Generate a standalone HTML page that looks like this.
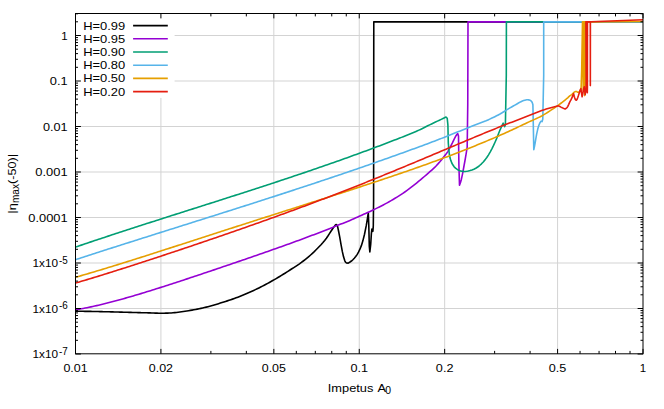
<!DOCTYPE html><html><head><meta charset="utf-8"><style>html,body{margin:0;padding:0;background:#fff}svg{display:block}text{font-family:"Liberation Sans",sans-serif;font-size:11.5px;fill:#000}</style></head><body>
<svg width="664" height="409" viewBox="0 0 664 409">
<rect width="664" height="409" fill="#fff"/>
<line x1="160.92" y1="13.5" x2="160.92" y2="353.8" stroke="#d3d3d3" stroke-width="1"/>
<line x1="273.83" y1="13.5" x2="273.83" y2="353.8" stroke="#d3d3d3" stroke-width="1"/>
<line x1="359.25" y1="13.5" x2="359.25" y2="353.8" stroke="#d3d3d3" stroke-width="1"/>
<line x1="444.67" y1="13.5" x2="444.67" y2="353.8" stroke="#d3d3d3" stroke-width="1"/>
<line x1="557.58" y1="13.5" x2="557.58" y2="353.8" stroke="#d3d3d3" stroke-width="1"/>
<line x1="75.5" y1="35.50" x2="643.0" y2="35.50" stroke="#d3d3d3" stroke-width="1"/>
<line x1="75.5" y1="81.00" x2="643.0" y2="81.00" stroke="#d3d3d3" stroke-width="1"/>
<line x1="75.5" y1="126.50" x2="643.0" y2="126.50" stroke="#d3d3d3" stroke-width="1"/>
<line x1="75.5" y1="172.00" x2="643.0" y2="172.00" stroke="#d3d3d3" stroke-width="1"/>
<line x1="75.5" y1="217.50" x2="643.0" y2="217.50" stroke="#d3d3d3" stroke-width="1"/>
<line x1="75.5" y1="263.00" x2="643.0" y2="263.00" stroke="#d3d3d3" stroke-width="1"/>
<line x1="75.5" y1="308.50" x2="643.0" y2="308.50" stroke="#d3d3d3" stroke-width="1"/>
<rect x="75.5" y="13.5" width="99.1" height="84.4" fill="#fff"/>
<defs><clipPath id="c"><rect x="75.5" y="13.5" width="567.5" height="340.3"/></clipPath></defs>
<g clip-path="url(#c)">
<polyline points="75.50,311.20 77.38,311.23 79.27,311.25 81.15,311.28 83.04,311.31 84.92,311.33 86.81,311.36 88.69,311.39 90.58,311.42 92.46,311.46 94.35,311.49 96.23,311.52 98.12,311.56 100.00,311.60 101.82,311.64 103.64,311.68 105.45,311.72 107.27,311.77 109.09,311.81 110.91,311.86 112.73,311.91 114.55,311.96 116.36,312.00 118.18,312.05 120.00,312.10 121.82,312.15 123.64,312.20 125.45,312.25 127.27,312.30 129.09,312.35 130.91,312.40 132.73,312.45 134.55,312.50 136.36,312.55 138.18,312.60 140.00,312.65 141.67,312.69 143.33,312.73 145.00,312.77 146.67,312.81 148.33,312.86 150.00,312.90 151.75,312.95 153.50,313.02 155.25,313.08 157.00,313.14 158.75,313.18 160.50,313.20 162.29,313.20 164.07,313.18 165.86,313.15 167.64,313.10 169.43,313.03 171.21,312.93 173.00,312.80 174.72,312.64 176.44,312.46 178.16,312.25 179.88,312.03 181.60,311.80 183.33,311.55 185.07,311.29 186.80,311.00 188.53,310.71 190.27,310.41 192.00,310.10 193.78,309.78 195.57,309.45 197.35,309.12 199.13,308.77 200.92,308.40 202.70,308.00 204.47,307.58 206.23,307.14 208.00,306.67 209.77,306.19 211.53,305.70 213.30,305.20 215.05,304.69 216.80,304.18 218.55,303.65 220.30,303.10 222.05,302.56 223.80,302.00 225.55,301.44 227.30,300.88 229.05,300.31 230.80,299.73 232.55,299.13 234.30,298.50 236.08,297.83 237.87,297.14 239.65,296.42 241.43,295.69 243.22,294.95 245.00,294.20 246.73,293.46 248.47,292.72 250.20,291.96 251.93,291.19 253.67,290.41 255.40,289.60 257.17,288.76 258.93,287.91 260.70,287.03 262.47,286.14 264.23,285.23 266.00,284.30 267.68,283.39 269.36,282.47 271.04,281.52 272.72,280.57 274.40,279.60 276.17,278.57 277.93,277.52 279.70,276.47 281.47,275.39 283.23,274.30 285.00,273.20 286.67,272.15 288.33,271.08 290.00,270.00 291.90,268.78 293.80,267.56 295.70,266.33 297.60,265.08 299.50,263.79 301.40,262.43 303.30,261.00 305.13,259.56 306.96,258.09 308.79,256.56 310.61,254.98 312.44,253.33 314.27,251.61 316.10,249.80 317.82,248.06 319.53,246.29 321.25,244.45 322.97,242.52 324.68,240.45 326.40,238.20 327.92,236.00 329.45,233.65 330.98,231.28 332.50,229.00 333.80,227.16 335.10,225.35 335.70,224.68 336.30,224.50 336.95,225.22 337.60,226.50 338.65,231.52 339.70,236.80 341.00,244.28 342.30,251.40 343.55,256.84 344.80,260.80 345.65,262.22 346.50,263.00 348.25,263.08 350.00,262.00 351.43,261.03 352.87,259.75 354.30,258.20 355.70,256.54 357.10,254.64 358.50,252.20 359.93,249.20 361.37,245.65 362.80,241.10 364.52,234.26 366.25,225.70 367.27,219.51 368.30,212.80 368.80,225.70 369.30,246.25 369.85,251.90 370.70,244.50 371.40,233.40 371.90,229.10 372.60,230.80 372.90,231.30 373.30,225.70 373.60,200.00 373.78,21.85 643.00,21.85" fill="none" stroke="#000000" stroke-width="1.6" stroke-linejoin="round" stroke-linecap="butt"/>
<polyline points="75.50,309.97 77.42,309.59 79.35,309.21 81.27,308.83 83.19,308.45 85.12,308.07 87.04,307.68 88.96,307.28 90.88,306.88 92.81,306.47 94.73,306.05 96.65,305.62 98.58,305.18 100.50,304.73 102.42,304.27 104.35,303.80 106.27,303.32 108.19,302.83 110.12,302.33 112.04,301.83 113.96,301.31 115.88,300.80 117.81,300.27 119.73,299.74 121.65,299.21 123.58,298.67 125.50,298.13 127.42,297.59 129.35,297.03 131.27,296.48 133.19,295.91 135.12,295.34 137.04,294.77 138.96,294.19 140.88,293.61 142.81,293.02 144.73,292.43 146.65,291.84 148.58,291.25 150.50,290.66 152.42,290.06 154.35,289.46 156.27,288.85 158.19,288.24 160.12,287.63 162.04,287.02 163.96,286.40 165.88,285.78 167.81,285.16 169.73,284.54 171.65,283.91 173.58,283.29 175.50,282.66 177.42,282.04 179.35,281.41 181.27,280.78 183.19,280.14 185.12,279.51 187.04,278.87 188.96,278.23 190.88,277.59 192.81,276.96 194.73,276.31 196.65,275.67 198.58,275.03 200.50,274.39 202.42,273.75 204.35,273.10 206.27,272.46 208.19,271.81 210.12,271.16 212.04,270.52 213.96,269.87 215.88,269.22 217.81,268.57 219.73,267.92 221.65,267.27 223.58,266.61 225.50,265.96 227.42,265.31 229.35,264.65 231.27,264.00 233.19,263.35 235.12,262.69 237.04,262.03 238.96,261.38 240.88,260.72 242.81,260.06 244.73,259.40 246.65,258.74 248.58,258.08 250.50,257.41 252.42,256.75 254.35,256.08 256.27,255.42 258.19,254.75 260.12,254.09 262.04,253.42 263.96,252.75 265.88,252.08 267.81,251.40 269.73,250.73 271.65,250.05 273.58,249.37 275.50,248.69 277.42,248.01 279.35,247.33 281.27,246.64 283.19,245.96 285.12,245.27 287.04,244.58 288.96,243.89 290.88,243.19 292.81,242.50 294.73,241.80 296.65,241.10 298.58,240.39 300.50,239.68 302.42,238.97 304.35,238.25 306.27,237.54 308.19,236.82 310.12,236.10 312.04,235.37 313.96,234.64 315.88,233.91 317.81,233.18 319.73,232.44 321.65,231.69 323.58,230.95 325.50,230.19 327.43,229.43 329.37,228.67 331.30,227.89 333.23,227.12 335.17,226.35 337.10,225.57 338.94,224.84 340.79,224.11 342.63,223.39 344.47,222.66 346.31,221.92 348.16,221.17 350.00,220.40 351.95,219.56 353.90,218.71 355.85,217.84 357.80,216.96 359.75,216.08 361.70,215.20 363.67,214.32 365.63,213.43 367.60,212.54 369.57,211.65 371.53,210.73 373.50,209.80 375.45,208.86 377.40,207.90 379.35,206.94 381.30,205.95 383.25,204.94 385.20,203.90 387.17,202.83 389.13,201.74 391.10,200.63 393.07,199.49 395.03,198.31 397.00,197.10 398.95,195.87 400.90,194.61 402.85,193.32 404.80,191.99 406.75,190.62 408.70,189.20 410.66,187.72 412.62,186.18 414.58,184.61 416.54,183.01 418.50,181.40 420.46,179.79 422.42,178.16 424.38,176.50 426.34,174.82 428.30,173.10 429.90,171.69 431.50,170.28 433.10,168.83 434.70,167.32 436.30,165.70 438.20,163.64 440.10,161.47 442.00,159.18 443.90,156.80 445.85,154.35 447.80,151.60 449.33,148.93 450.87,145.94 452.40,142.90 454.20,139.11 456.00,135.70 456.85,134.53 457.70,133.50 458.50,136.00 458.90,165.00 459.50,185.20 460.40,182.74 461.30,179.70 462.55,173.81 463.80,167.00 464.90,161.00 466.00,154.60 466.60,150.86 467.20,147.00 467.75,105.00 468.00,21.85 643.00,21.85" fill="none" stroke="#9400D3" stroke-width="1.6" stroke-linejoin="round" stroke-linecap="butt"/>
<polyline points="75.50,247.08 77.42,246.43 79.35,245.78 81.27,245.13 83.19,244.48 85.12,243.83 87.04,243.18 88.96,242.53 90.88,241.88 92.81,241.24 94.73,240.59 96.65,239.95 98.58,239.31 100.50,238.67 102.42,238.03 104.35,237.39 106.27,236.75 108.19,236.12 110.12,235.49 112.04,234.85 113.96,234.22 115.88,233.59 117.81,232.96 119.73,232.33 121.65,231.70 123.58,231.08 125.50,230.45 127.42,229.82 129.35,229.20 131.27,228.57 133.19,227.95 135.12,227.33 137.04,226.71 138.96,226.09 140.88,225.47 142.81,224.85 144.73,224.23 146.65,223.61 148.58,222.99 150.50,222.37 152.42,221.75 154.35,221.14 156.27,220.52 158.19,219.91 160.12,219.29 162.04,218.68 163.96,218.06 165.88,217.45 167.81,216.84 169.73,216.22 171.65,215.61 173.58,215.00 175.50,214.38 177.42,213.77 179.35,213.16 181.27,212.55 183.19,211.93 185.12,211.32 187.04,210.71 188.96,210.10 190.88,209.49 192.81,208.88 194.73,208.27 196.65,207.65 198.58,207.04 200.50,206.43 202.42,205.82 204.35,205.21 206.27,204.59 208.19,203.98 210.12,203.37 212.04,202.76 213.96,202.14 215.88,201.53 217.81,200.92 219.73,200.30 221.65,199.69 223.58,199.07 225.50,198.46 227.42,197.84 229.35,197.23 231.27,196.61 233.19,195.99 235.12,195.38 237.04,194.76 238.96,194.14 240.88,193.52 242.81,192.90 244.73,192.28 246.65,191.66 248.58,191.04 250.50,190.42 252.42,189.80 254.35,189.17 256.27,188.55 258.19,187.92 260.12,187.30 262.04,186.67 263.96,186.04 265.88,185.41 267.81,184.78 269.73,184.15 271.65,183.52 273.58,182.89 275.50,182.26 277.42,181.62 279.35,180.99 281.27,180.35 283.19,179.71 285.12,179.07 287.04,178.43 288.96,177.79 290.88,177.15 292.81,176.51 294.73,175.86 296.65,175.22 298.58,174.57 300.50,173.92 302.42,173.27 304.35,172.62 306.27,171.96 308.19,171.31 310.12,170.65 312.04,170.00 313.96,169.34 315.88,168.68 317.81,168.02 319.73,167.35 321.65,166.69 323.58,166.02 325.50,165.35 327.42,164.68 329.35,164.01 331.27,163.34 333.19,162.66 335.12,161.99 337.04,161.31 338.96,160.63 340.88,159.95 342.81,159.26 344.73,158.58 346.65,157.89 348.58,157.20 350.50,156.51 352.42,155.81 354.35,155.12 356.27,154.42 358.19,153.72 360.12,153.02 362.04,152.32 363.96,151.61 365.88,150.90 367.81,150.19 369.73,149.48 371.65,148.77 373.58,148.05 375.50,147.33 377.40,146.62 379.30,145.90 381.20,145.18 383.10,144.46 385.00,143.74 386.90,143.02 388.80,142.29 390.70,141.56 392.60,140.83 394.50,140.10 396.25,139.42 398.00,138.74 399.75,138.07 401.50,137.38 403.25,136.70 405.00,136.00 406.83,135.27 408.67,134.55 410.50,133.81 412.33,133.07 414.17,132.30 416.00,131.50 417.50,130.82 419.00,130.13 420.50,129.42 422.00,128.70 423.90,127.75 425.80,126.76 427.70,125.80 429.63,124.85 431.57,123.92 433.50,123.00 435.47,122.06 437.43,121.13 439.40,120.20 441.20,119.36 443.00,118.50 444.50,117.76 446.00,117.00 447.20,118.20 447.90,125.00 448.30,143.00 448.80,149.01 449.30,154.00 450.05,158.12 450.80,160.40 451.80,162.99 452.80,164.80 454.17,166.81 455.53,168.14 456.90,169.20 458.55,170.25 460.20,170.87 461.85,171.21 463.50,171.40 465.12,171.43 466.75,171.26 468.38,170.93 470.00,170.50 471.93,169.90 473.85,169.16 475.77,168.22 477.70,167.00 479.60,165.53 481.50,163.80 483.27,161.96 485.03,159.89 486.80,157.50 488.53,154.83 490.27,151.85 492.00,148.60 493.57,145.42 495.13,142.02 496.70,138.40 498.50,133.81 500.30,129.30 501.75,126.15 503.20,123.20 504.60,126.60 505.40,124.60 506.30,75.00 506.40,21.85 643.00,21.85" fill="none" stroke="#009E73" stroke-width="1.6" stroke-linejoin="round" stroke-linecap="butt"/>
<polyline points="75.50,259.66 77.42,259.03 79.35,258.41 81.27,257.79 83.19,257.16 85.12,256.54 87.04,255.92 88.96,255.30 90.88,254.68 92.81,254.06 94.73,253.44 96.65,252.82 98.58,252.20 100.50,251.58 102.42,250.96 104.35,250.34 106.27,249.73 108.19,249.11 110.12,248.50 112.04,247.88 113.96,247.27 115.88,246.66 117.81,246.04 119.73,245.43 121.65,244.82 123.58,244.21 125.50,243.59 127.42,242.98 129.35,242.37 131.27,241.76 133.19,241.15 135.12,240.54 137.04,239.93 138.96,239.32 140.88,238.71 142.81,238.10 144.73,237.50 146.65,236.89 148.58,236.28 150.50,235.67 152.42,235.06 154.35,234.45 156.27,233.85 158.19,233.24 160.12,232.63 162.04,232.03 163.96,231.42 165.88,230.81 167.81,230.21 169.73,229.60 171.65,228.99 173.58,228.39 175.50,227.78 177.42,227.17 179.35,226.57 181.27,225.96 183.19,225.36 185.12,224.75 187.04,224.14 188.96,223.54 190.88,222.93 192.81,222.33 194.73,221.72 196.65,221.11 198.58,220.51 200.50,219.90 202.42,219.29 204.35,218.68 206.27,218.08 208.19,217.47 210.12,216.86 212.04,216.25 213.96,215.65 215.88,215.04 217.81,214.43 219.73,213.82 221.65,213.21 223.58,212.60 225.50,211.99 227.42,211.38 229.35,210.77 231.27,210.16 233.19,209.55 235.12,208.94 237.04,208.33 238.96,207.71 240.88,207.10 242.81,206.49 244.73,205.88 246.65,205.26 248.58,204.65 250.50,204.03 252.42,203.42 254.35,202.80 256.27,202.19 258.19,201.57 260.12,200.95 262.04,200.34 263.96,199.72 265.88,199.10 267.81,198.48 269.73,197.86 271.65,197.24 273.58,196.62 275.50,196.00 277.42,195.37 279.35,194.75 281.27,194.13 283.19,193.50 285.12,192.88 287.04,192.25 288.96,191.62 290.88,191.00 292.81,190.37 294.73,189.74 296.65,189.11 298.58,188.48 300.50,187.85 302.42,187.22 304.35,186.58 306.27,185.95 308.19,185.32 310.12,184.68 312.04,184.04 313.96,183.41 315.88,182.77 317.81,182.13 319.73,181.49 321.65,180.85 323.58,180.21 325.50,179.57 327.42,178.92 329.35,178.28 331.27,177.63 333.19,176.98 335.12,176.34 337.04,175.69 338.96,175.04 340.88,174.39 342.81,173.74 344.73,173.08 346.65,172.43 348.58,171.77 350.50,171.12 352.42,170.46 354.35,169.80 356.27,169.14 358.19,168.48 360.12,167.82 362.04,167.15 363.96,166.49 365.88,165.82 367.81,165.16 369.73,164.49 371.65,163.82 373.58,163.15 375.50,162.47 377.42,161.80 379.35,161.12 381.27,160.45 383.19,159.77 385.12,159.09 387.04,158.41 388.96,157.73 390.88,157.05 392.81,156.36 394.73,155.68 396.65,154.99 398.58,154.30 400.50,153.61 402.46,152.90 404.41,152.20 406.37,151.49 408.32,150.79 410.28,150.08 412.23,149.37 414.19,148.65 416.14,147.94 418.10,147.22 419.90,146.56 421.70,145.89 423.50,145.23 425.30,144.57 427.10,143.90 428.90,143.23 430.70,142.55 432.50,141.87 434.30,141.19 436.10,140.50 437.91,139.80 439.72,139.09 441.53,138.37 443.34,137.65 445.15,136.93 446.96,136.20 448.77,135.47 450.58,134.75 452.39,134.02 454.20,133.30 456.01,132.58 457.82,131.86 459.63,131.14 461.44,130.42 463.25,129.70 465.06,128.98 466.87,128.26 468.68,127.54 470.49,126.82 472.30,126.10 474.26,125.33 476.23,124.59 478.19,123.85 480.15,123.11 482.11,122.35 484.07,121.57 486.04,120.76 488.00,119.90 489.71,119.12 491.43,118.33 493.14,117.52 494.86,116.69 496.57,115.83 498.29,114.93 500.00,114.00 501.67,113.04 503.33,112.03 505.00,110.99 506.67,109.94 508.33,108.90 510.00,107.90 511.62,106.96 513.25,106.03 514.88,105.11 516.50,104.20 518.47,103.06 520.43,101.93 522.40,101.00 523.60,100.56 524.80,100.20 525.80,99.95 526.80,99.80 527.70,99.76 528.60,99.85 529.30,100.02 530.00,100.30 530.65,100.65 531.30,101.20 531.75,101.71 532.20,102.50 532.55,103.50 532.90,104.70 533.40,130.00 533.80,149.70 534.45,146.49 535.10,143.10 535.85,138.64 536.60,134.30 537.70,129.31 538.80,125.50 539.90,122.93 541.00,121.20 542.10,121.60 542.80,119.00 543.70,75.00 543.70,21.85 643.00,21.85" fill="none" stroke="#56B4E9" stroke-width="1.6" stroke-linejoin="round" stroke-linecap="butt"/>
<polyline points="75.50,277.29 77.42,276.73 79.35,276.17 81.27,275.61 83.19,275.05 85.12,274.49 87.04,273.93 88.96,273.36 90.88,272.80 92.81,272.23 94.73,271.66 96.65,271.09 98.58,270.52 100.50,269.94 102.42,269.36 104.35,268.78 106.27,268.19 108.19,267.60 110.12,267.01 112.04,266.42 113.96,265.82 115.88,265.23 117.81,264.63 119.73,264.03 121.65,263.43 123.58,262.83 125.50,262.23 127.42,261.63 129.35,261.02 131.27,260.42 133.19,259.81 135.12,259.20 137.04,258.59 138.96,257.98 140.88,257.37 142.81,256.76 144.73,256.14 146.65,255.53 148.58,254.91 150.50,254.30 152.42,253.68 154.35,253.07 156.27,252.45 158.19,251.83 160.12,251.22 162.04,250.60 163.96,249.98 165.88,249.36 167.81,248.74 169.73,248.12 171.65,247.50 173.58,246.87 175.50,246.25 177.42,245.63 179.35,245.01 181.27,244.39 183.19,243.77 185.12,243.15 187.04,242.53 188.96,241.90 190.88,241.28 192.81,240.66 194.73,240.04 196.65,239.41 198.58,238.79 200.50,238.17 202.42,237.55 204.35,236.93 206.27,236.30 208.19,235.68 210.12,235.06 212.04,234.44 213.96,233.82 215.88,233.20 217.81,232.58 219.73,231.96 221.65,231.33 223.58,230.71 225.50,230.09 227.42,229.47 229.35,228.86 231.27,228.24 233.19,227.62 235.12,227.00 237.04,226.38 238.96,225.76 240.88,225.14 242.81,224.52 244.73,223.91 246.65,223.29 248.58,222.67 250.50,222.05 252.42,221.44 254.35,220.82 256.27,220.20 258.19,219.59 260.12,218.97 262.04,218.36 263.96,217.74 265.88,217.12 267.81,216.51 269.73,215.89 271.65,215.28 273.58,214.66 275.50,214.05 277.42,213.43 279.35,212.82 281.27,212.21 283.19,211.59 285.12,210.98 287.04,210.36 288.96,209.75 290.88,209.14 292.81,208.52 294.73,207.91 296.65,207.29 298.58,206.68 300.50,206.07 302.42,205.45 304.35,204.84 306.27,204.22 308.19,203.61 310.12,202.99 312.04,202.38 313.96,201.76 315.88,201.15 317.81,200.53 319.73,199.92 321.65,199.30 323.58,198.68 325.50,198.07 327.42,197.45 329.35,196.83 331.27,196.21 333.19,195.60 335.12,194.98 337.04,194.36 338.96,193.74 340.88,193.12 342.81,192.50 344.73,191.87 346.65,191.25 348.58,190.63 350.50,190.00 352.42,189.38 354.35,188.75 356.27,188.12 358.19,187.50 360.12,186.87 362.04,186.24 363.96,185.61 365.88,184.98 367.81,184.35 369.73,183.71 371.65,183.08 373.58,182.44 375.50,181.80 377.42,181.16 379.35,180.52 381.27,179.88 383.19,179.24 385.12,178.59 387.04,177.95 388.96,177.30 390.88,176.65 392.81,176.00 394.73,175.35 396.65,174.70 398.58,174.04 400.50,173.38 402.42,172.72 404.35,172.06 406.27,171.39 408.19,170.73 410.12,170.06 412.04,169.39 413.96,168.72 415.88,168.04 417.81,167.37 419.73,166.69 421.65,166.01 423.58,165.32 425.50,164.63 427.42,163.94 429.35,163.25 431.27,162.55 433.19,161.85 435.12,161.15 437.04,160.45 438.96,159.74 440.88,159.04 442.81,158.32 444.73,157.61 446.65,156.89 448.58,156.16 450.50,155.43 452.42,154.70 454.35,153.97 456.27,153.23 458.19,152.49 460.12,151.75 462.04,151.00 463.96,150.25 465.88,149.49 467.81,148.73 469.73,147.97 471.65,147.20 473.58,146.43 475.50,145.65 477.42,144.86 479.35,144.07 481.27,143.28 483.19,142.49 485.12,141.69 487.04,140.88 488.96,140.07 490.88,139.26 492.81,138.44 494.73,137.61 496.65,136.78 498.58,135.94 500.50,135.10 502.40,134.26 504.30,133.40 506.20,132.55 508.10,131.68 510.00,130.81 511.90,129.93 513.80,129.05 515.70,128.16 517.60,127.27 519.50,126.38 521.40,125.48 523.30,124.59 525.20,123.69 527.10,122.80 529.00,121.90 530.87,121.04 532.74,120.20 534.61,119.37 536.49,118.52 538.36,117.64 540.23,116.71 542.10,115.70 543.88,114.68 545.66,113.60 547.44,112.49 549.22,111.36 551.00,110.20 552.62,109.14 554.25,108.05 555.88,106.95 557.50,105.80 559.05,104.67 560.60,103.51 562.15,102.32 563.70,101.10 565.03,100.03 566.37,98.94 567.70,97.80 568.90,96.65 570.10,95.60 570.95,95.11 571.80,94.60 572.85,93.49 573.90,92.40 574.80,91.86 575.70,91.50 576.15,91.44 576.60,91.50 577.15,91.91 577.70,92.30 578.35,92.32 579.00,92.00 579.60,91.37 580.20,90.50 580.65,89.74 581.10,88.90 581.70,70.00 582.50,21.85 582.70,21.85 583.20,91.00 583.60,21.85 583.90,90.00 584.30,21.85 584.60,95.60 584.90,21.85 585.30,90.00 585.50,21.85 591.00,21.85 643.00,21.55" fill="none" stroke="#E69F00" stroke-width="1.6" stroke-linejoin="round" stroke-linecap="butt"/>
<polyline points="75.50,283.05 77.42,282.48 79.35,281.90 81.27,281.33 83.19,280.76 85.12,280.18 87.04,279.61 88.96,279.03 90.88,278.45 92.81,277.87 94.73,277.28 96.65,276.70 98.58,276.11 100.50,275.52 102.42,274.93 104.35,274.33 106.27,273.73 108.19,273.13 110.12,272.53 112.04,271.93 113.96,271.32 115.88,270.71 117.81,270.10 119.73,269.49 121.65,268.88 123.58,268.27 125.50,267.66 127.42,267.04 129.35,266.43 131.27,265.81 133.19,265.19 135.12,264.57 137.04,263.95 138.96,263.32 140.88,262.70 142.81,262.07 144.73,261.45 146.65,260.82 148.58,260.19 150.50,259.56 152.42,258.93 154.35,258.30 156.27,257.67 158.19,257.03 160.12,256.40 162.04,255.76 163.96,255.13 165.88,254.49 167.81,253.85 169.73,253.21 171.65,252.57 173.58,251.93 175.50,251.29 177.42,250.65 179.35,250.01 181.27,249.37 183.19,248.72 185.12,248.08 187.04,247.43 188.96,246.78 190.88,246.14 192.81,245.49 194.73,244.84 196.65,244.19 198.58,243.54 200.50,242.88 202.42,242.23 204.35,241.58 206.27,240.92 208.19,240.27 210.12,239.61 212.04,238.95 213.96,238.30 215.88,237.64 217.81,236.98 219.73,236.32 221.65,235.66 223.58,234.99 225.50,234.33 227.42,233.67 229.35,233.00 231.27,232.33 233.19,231.67 235.12,231.00 237.04,230.33 238.96,229.66 240.88,228.99 242.81,228.32 244.73,227.64 246.65,226.97 248.58,226.29 250.50,225.61 252.42,224.93 254.35,224.26 256.27,223.57 258.19,222.89 260.12,222.21 262.04,221.53 263.96,220.84 265.88,220.16 267.81,219.47 269.73,218.78 271.65,218.09 273.58,217.40 275.50,216.70 277.42,216.01 279.35,215.31 281.27,214.61 283.19,213.92 285.12,213.22 287.04,212.51 288.96,211.81 290.88,211.11 292.81,210.40 294.73,209.69 296.65,208.98 298.58,208.27 300.50,207.56 302.42,206.85 304.35,206.13 306.27,205.42 308.19,204.70 310.12,203.98 312.04,203.26 313.96,202.53 315.88,201.81 317.81,201.08 319.73,200.35 321.65,199.62 323.58,198.89 325.50,198.16 327.42,197.42 329.35,196.69 331.27,195.95 333.19,195.21 335.12,194.47 337.04,193.72 338.96,192.98 340.88,192.23 342.81,191.48 344.73,190.73 346.65,189.98 348.58,189.23 350.50,188.47 352.42,187.72 354.35,186.96 356.27,186.20 358.19,185.44 360.12,184.67 362.04,183.91 363.96,183.14 365.88,182.37 367.81,181.60 369.73,180.83 371.65,180.05 373.58,179.28 375.50,178.50 377.42,177.73 379.35,176.95 381.27,176.16 383.19,175.38 385.12,174.60 387.04,173.81 388.96,173.02 390.88,172.23 392.81,171.44 394.73,170.65 396.65,169.86 398.58,169.07 400.50,168.27 402.42,167.48 404.35,166.68 406.27,165.88 408.19,165.08 410.12,164.28 412.04,163.48 413.96,162.67 415.88,161.87 417.81,161.06 419.73,160.26 421.65,159.45 423.58,158.65 425.50,157.84 427.42,157.03 429.35,156.22 431.27,155.41 433.19,154.60 435.12,153.79 437.04,152.98 438.96,152.17 440.88,151.36 442.81,150.55 444.73,149.74 446.65,148.92 448.58,148.11 450.50,147.31 452.42,146.50 454.35,145.69 456.27,144.88 458.19,144.07 460.12,143.26 462.04,142.45 463.96,141.64 465.88,140.83 467.81,140.02 469.73,139.22 471.65,138.42 473.58,137.62 475.50,136.82 477.42,136.02 479.35,135.22 481.27,134.43 483.19,133.63 485.12,132.84 487.04,132.05 488.96,131.26 490.88,130.47 492.81,129.69 494.73,128.90 496.65,128.13 498.58,127.35 500.50,126.59 502.40,125.83 504.30,125.08 506.20,124.34 508.10,123.60 510.00,122.86 511.90,122.13 513.80,121.40 515.70,120.67 517.60,119.94 519.50,119.22 521.40,118.49 523.30,117.77 525.20,117.04 527.10,116.31 529.00,115.58 530.91,114.83 532.83,114.07 534.74,113.30 536.65,112.54 538.56,111.79 540.47,111.06 542.39,110.36 544.30,109.70 546.19,109.09 548.07,108.51 549.96,107.96 551.84,107.43 553.73,106.91 555.61,106.40 557.50,105.90 558.50,106.03 559.50,106.30 560.25,106.68 561.00,107.10 562.30,107.79 563.60,108.40 564.35,108.75 565.10,108.90 565.75,108.67 566.40,108.20 567.05,107.52 567.70,106.60 568.75,104.36 569.80,101.90 570.80,100.13 571.80,98.20 572.40,96.60 573.00,95.00 573.30,94.33 573.60,93.70 573.90,95.00 574.20,96.20 574.75,98.06 575.30,99.40 575.80,100.06 576.30,100.20 577.00,99.39 577.70,97.80 578.35,95.85 579.00,93.70 579.70,91.51 580.40,89.60 580.65,89.08 580.90,88.60 581.40,92.30 582.10,96.80 582.90,93.00 583.80,88.20 584.30,86.80 584.90,91.60 585.20,94.70 585.90,89.60 586.40,86.50 586.90,90.30 587.30,92.70 587.40,86.80 587.45,21.85 586.60,21.85 586.20,88.00 585.90,21.85 590.30,21.85 590.35,85.60 590.40,21.85 591.40,21.75 643.00,19.70" fill="none" stroke="#E51E10" stroke-width="1.6" stroke-linejoin="round" stroke-linecap="butt"/>
</g>
<text x="83.2" y="29.60" textLength="42" lengthAdjust="spacingAndGlyphs">H=0.99</text>
<line x1="133.1" y1="25.60" x2="167.8" y2="25.60" stroke="#000000" stroke-width="1.6"/>
<text x="83.2" y="42.80" textLength="42" lengthAdjust="spacingAndGlyphs">H=0.95</text>
<line x1="133.1" y1="38.80" x2="167.8" y2="38.80" stroke="#9400D3" stroke-width="1.6"/>
<text x="83.2" y="56.00" textLength="42" lengthAdjust="spacingAndGlyphs">H=0.90</text>
<line x1="133.1" y1="52.00" x2="167.8" y2="52.00" stroke="#009E73" stroke-width="1.6"/>
<text x="83.2" y="69.20" textLength="42" lengthAdjust="spacingAndGlyphs">H=0.80</text>
<line x1="133.1" y1="65.20" x2="167.8" y2="65.20" stroke="#56B4E9" stroke-width="1.6"/>
<text x="83.2" y="82.40" textLength="42" lengthAdjust="spacingAndGlyphs">H=0.50</text>
<line x1="133.1" y1="78.40" x2="167.8" y2="78.40" stroke="#E69F00" stroke-width="1.6"/>
<text x="83.2" y="95.60" textLength="42" lengthAdjust="spacingAndGlyphs">H=0.20</text>
<line x1="133.1" y1="91.60" x2="167.8" y2="91.60" stroke="#E51E10" stroke-width="1.6"/>
<path d="M75.50,353.8v-4.9M75.50,13.5v4.9M160.92,353.8v-4.9M160.92,13.5v4.9M273.83,353.8v-4.9M273.83,13.5v4.9M359.25,353.8v-4.9M359.25,13.5v4.9M444.67,353.8v-4.9M444.67,13.5v4.9M557.58,353.8v-4.9M557.58,13.5v4.9M643.00,353.8v-4.9M643.00,13.5v4.9M210.88,353.8v-2.9M210.88,13.5v2.9M246.33,353.8v-2.9M246.33,13.5v2.9M296.30,353.8v-2.9M296.30,13.5v2.9M315.30,353.8v-2.9M315.30,13.5v2.9M331.75,353.8v-2.9M331.75,13.5v2.9M346.27,353.8v-2.9M346.27,13.5v2.9M494.63,353.8v-2.9M494.63,13.5v2.9M530.08,353.8v-2.9M530.08,13.5v2.9M580.05,353.8v-2.9M580.05,13.5v2.9M599.05,353.8v-2.9M599.05,13.5v2.9M615.50,353.8v-2.9M615.50,13.5v2.9M630.02,353.8v-2.9M630.02,13.5v2.9M75.5,35.50h5.4M643.0,35.50h-5.4M75.5,81.00h5.4M643.0,81.00h-5.4M75.5,126.50h5.4M643.0,126.50h-5.4M75.5,172.00h5.4M643.0,172.00h-5.4M75.5,217.50h5.4M643.0,217.50h-5.4M75.5,263.00h5.4M643.0,263.00h-5.4M75.5,308.50h5.4M643.0,308.50h-5.4M75.5,354.00h5.4M643.0,354.00h-5.4M75.5,21.80h2.5M643.0,21.80h-2.5M75.5,13.79h2.5M643.0,13.79h-2.5M75.5,67.30h2.5M643.0,67.30h-2.5M75.5,59.29h2.5M643.0,59.29h-2.5M75.5,53.61h2.5M643.0,53.61h-2.5M75.5,49.20h2.5M643.0,49.20h-2.5M75.5,45.59h2.5M643.0,45.59h-2.5M75.5,42.55h2.5M643.0,42.55h-2.5M75.5,39.91h2.5M643.0,39.91h-2.5M75.5,37.58h2.5M643.0,37.58h-2.5M75.5,112.80h2.5M643.0,112.80h-2.5M75.5,104.79h2.5M643.0,104.79h-2.5M75.5,99.11h2.5M643.0,99.11h-2.5M75.5,94.70h2.5M643.0,94.70h-2.5M75.5,91.09h2.5M643.0,91.09h-2.5M75.5,88.05h2.5M643.0,88.05h-2.5M75.5,85.41h2.5M643.0,85.41h-2.5M75.5,83.08h2.5M643.0,83.08h-2.5M75.5,158.30h2.5M643.0,158.30h-2.5M75.5,150.29h2.5M643.0,150.29h-2.5M75.5,144.61h2.5M643.0,144.61h-2.5M75.5,140.20h2.5M643.0,140.20h-2.5M75.5,136.59h2.5M643.0,136.59h-2.5M75.5,133.55h2.5M643.0,133.55h-2.5M75.5,130.91h2.5M643.0,130.91h-2.5M75.5,128.58h2.5M643.0,128.58h-2.5M75.5,203.80h2.5M643.0,203.80h-2.5M75.5,195.79h2.5M643.0,195.79h-2.5M75.5,190.11h2.5M643.0,190.11h-2.5M75.5,185.70h2.5M643.0,185.70h-2.5M75.5,182.09h2.5M643.0,182.09h-2.5M75.5,179.05h2.5M643.0,179.05h-2.5M75.5,176.41h2.5M643.0,176.41h-2.5M75.5,174.08h2.5M643.0,174.08h-2.5M75.5,249.30h2.5M643.0,249.30h-2.5M75.5,241.29h2.5M643.0,241.29h-2.5M75.5,235.61h2.5M643.0,235.61h-2.5M75.5,231.20h2.5M643.0,231.20h-2.5M75.5,227.59h2.5M643.0,227.59h-2.5M75.5,224.55h2.5M643.0,224.55h-2.5M75.5,221.91h2.5M643.0,221.91h-2.5M75.5,219.58h2.5M643.0,219.58h-2.5M75.5,294.80h2.5M643.0,294.80h-2.5M75.5,286.79h2.5M643.0,286.79h-2.5M75.5,281.11h2.5M643.0,281.11h-2.5M75.5,276.70h2.5M643.0,276.70h-2.5M75.5,273.09h2.5M643.0,273.09h-2.5M75.5,270.05h2.5M643.0,270.05h-2.5M75.5,267.41h2.5M643.0,267.41h-2.5M75.5,265.08h2.5M643.0,265.08h-2.5M75.5,340.30h2.5M643.0,340.30h-2.5M75.5,332.29h2.5M643.0,332.29h-2.5M75.5,326.61h2.5M643.0,326.61h-2.5M75.5,322.20h2.5M643.0,322.20h-2.5M75.5,318.59h2.5M643.0,318.59h-2.5M75.5,315.55h2.5M643.0,315.55h-2.5M75.5,312.91h2.5M643.0,312.91h-2.5M75.5,310.58h2.5M643.0,310.58h-2.5" stroke="#000" stroke-width="1" fill="none"/>
<rect x="75.5" y="13.5" width="567.5" height="340.3" fill="none" stroke="#000" stroke-width="1"/>
<text x="75.50" y="371.6" text-anchor="middle" textLength="24.2" lengthAdjust="spacingAndGlyphs">0.01</text>
<text x="160.92" y="371.6" text-anchor="middle" textLength="24.2" lengthAdjust="spacingAndGlyphs">0.02</text>
<text x="273.83" y="371.6" text-anchor="middle" textLength="24.2" lengthAdjust="spacingAndGlyphs">0.05</text>
<text x="359.25" y="371.6" text-anchor="middle" textLength="17.6" lengthAdjust="spacingAndGlyphs">0.1</text>
<text x="444.67" y="371.6" text-anchor="middle" textLength="17.6" lengthAdjust="spacingAndGlyphs">0.2</text>
<text x="557.58" y="371.6" text-anchor="middle" textLength="17.6" lengthAdjust="spacingAndGlyphs">0.5</text>
<text x="643.00" y="371.6" text-anchor="middle" textLength="6.4" lengthAdjust="spacingAndGlyphs">1</text>
<text x="67.6" y="39.70" text-anchor="end" textLength="6.4" lengthAdjust="spacingAndGlyphs">1</text>
<text x="67.6" y="85.20" text-anchor="end" textLength="17.8" lengthAdjust="spacingAndGlyphs">0.1</text>
<text x="67.6" y="130.70" text-anchor="end" textLength="24.6" lengthAdjust="spacingAndGlyphs">0.01</text>
<text x="67.6" y="176.20" text-anchor="end" textLength="32.3" lengthAdjust="spacingAndGlyphs">0.001</text>
<text x="67.6" y="221.70" text-anchor="end" textLength="39.3" lengthAdjust="spacingAndGlyphs">0.0001</text>
<text x="32.5" y="267.20" textLength="25.5" lengthAdjust="spacingAndGlyphs">1x10</text>
<text x="58.9" y="263.90" font-size="8" textLength="8.8" lengthAdjust="spacingAndGlyphs">-5</text>
<text x="32.5" y="312.70" textLength="25.5" lengthAdjust="spacingAndGlyphs">1x10</text>
<text x="58.9" y="309.40" font-size="8" textLength="8.8" lengthAdjust="spacingAndGlyphs">-6</text>
<text x="32.5" y="358.20" textLength="25.5" lengthAdjust="spacingAndGlyphs">1x10</text>
<text x="58.9" y="354.90" font-size="8" textLength="8.8" lengthAdjust="spacingAndGlyphs">-7</text>
<text x="327.8" y="391.5" font-size="12" textLength="45.6" lengthAdjust="spacingAndGlyphs">Impetus</text>
<text x="377.4" y="391.5" font-size="12" textLength="8.5" lengthAdjust="spacingAndGlyphs">A</text>
<text x="385.3" y="393.8" font-size="8.8" textLength="5.8" lengthAdjust="spacingAndGlyphs">0</text>
<g transform="translate(15.9,213.9) rotate(-90)" font-size="12">
<text x="0.5" y="0">|</text><text x="3.7" y="0" textLength="7" lengthAdjust="spacingAndGlyphs">η</text>
<text x="10.9" y="2.9" font-size="9.4" textLength="19" lengthAdjust="spacingAndGlyphs">max</text>
<text x="29.9" y="0" textLength="26.6" lengthAdjust="spacingAndGlyphs">(-50)</text><text x="56.9" y="0">|</text>
</g>
</svg></body></html>
